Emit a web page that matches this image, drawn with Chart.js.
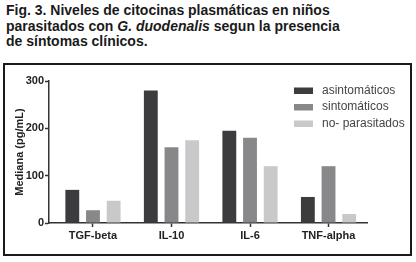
<!DOCTYPE html>
<html><head><meta charset="utf-8">
<script src="https://cdn.jsdelivr.net/npm/chart.js@4/dist/chart.umd.min.js"></script>
<style>
html,body{margin:0;padding:0;background:#fff;width:416px;height:262px;overflow:hidden;}
#title{position:absolute;left:6px;top:3px;font-family:"Liberation Sans",Arial,sans-serif;font-weight:bold;font-size:14px;line-height:15.5px;color:#1a1a1a;white-space:nowrap;}
#frame{position:absolute;left:3px;top:63px;width:405px;height:189px;border:2px solid #1a1a1a;}
#wrap{position:absolute;left:0;top:0;width:416px;height:262px;}
</style></head>
<body>
<div id="title">Fig. 3. Niveles de citocinas plasmáticas en niños<br>parasitados con <i>G. duodenalis</i> segun la presencia<br>de síntomas clínicos.</div>
<div id="frame"></div>
<div id="wrap"><canvas id="c" width="416" height="262"></canvas></div>
<script>
const categories = ["TGF-beta", "IL-10", "IL-6", "TNF-alpha"];
const seriesNames = ["asintomáticos", "sintomáticos", "no- parasitados"];
const asintomaticos = [70, 280, 195, 55];
const sintomaticos = [27, 160, 180, 120];
const noParasitados = [47, 175, 120, 19];
const yTicks = [0, 100, 200, 300];
const colors = ["#3c3c3e", "#88888b", "#c9c9cb"];

const FONT = '"Liberation Sans", Arial, sans-serif';

const toPoints = arr => arr.map((v, i) => ({x: i, y: v}));

const legendPlugin = {
  id: 'customLegend',
  afterDraw(chart) {
    const ctx = chart.ctx;
    ctx.save();
    ctx.font = '12px ' + FONT;
    ctx.textBaseline = 'middle';
    chart.data.datasets.forEach((ds, i) => {
      const y = 90.5 + i * 16.5;
      ctx.fillStyle = ds.backgroundColor;
      ctx.fillRect(294, y - 3, 19, 6.5);
      ctx.fillStyle = '#444';
      ctx.fillText(ds.label, 322, y);
    });
    ctx.restore();
  }
};

new Chart(document.getElementById('c'), {
  type: 'bar',
  data: {
    datasets: [
      {label: seriesNames[0], data: toPoints(asintomaticos), backgroundColor: colors[0]},
      {label: seriesNames[1], data: toPoints(sintomaticos), backgroundColor: colors[1]},
      {label: seriesNames[2], data: toPoints(noParasitados), backgroundColor: colors[2]}
    ]
  },
  options: {
    responsive: false,
    animation: false,
    devicePixelRatio: 1,
    layout: {padding: {left: 13, top: 81, right: 49, bottom: 0}},
    plugins: {legend: {display: false}, title: {display: false}, tooltip: {enabled: false}},
    datasets: {bar: {categoryPercentage: 0.79, barPercentage: 0.67}},
    scales: {
      x: {
        type: 'linear',
        offset: false,
        min: -0.56, max: 3.49,
        afterBuildTicks: s => { s.ticks = categories.map((c, i) => ({value: i})); },
        grid: {display: true, offset: false, drawOnChartArea: false, drawTicks: true, tickLength: 4, tickColor: '#333', tickWidth: 1.5},
        border: {display: true, color: '#333', width: 1.5},
        ticks: {color: '#222', font: {family: FONT, size: 11, weight: 'bold'}, padding: 2, maxRotation: 0, autoSkip: false,
                callback: v => categories[v]},
        afterFit: s => { s.height = 39; }
      },
      y: {
        min: 0, max: 300,
        afterBuildTicks: s => { s.ticks = yTicks.map(v => ({value: v})); },
        grid: {display: true, drawOnChartArea: false, drawTicks: true, tickLength: 4, tickColor: '#333', tickWidth: 1.5},
        border: {display: true, color: '#333', width: 1.5},
        ticks: {color: '#222', font: {family: FONT, size: 11, weight: 'bold'}, padding: 1},
        title: {display: true, text: 'Mediana (pg/mL)', color: '#222', font: {family: FONT, size: 11, weight: 'bold'}, padding: {top: 0, bottom: 4}},
        afterFit: s => { s.width = 36; }
      }
    }
  },
  plugins: [legendPlugin]
});
</script>
</body></html>
